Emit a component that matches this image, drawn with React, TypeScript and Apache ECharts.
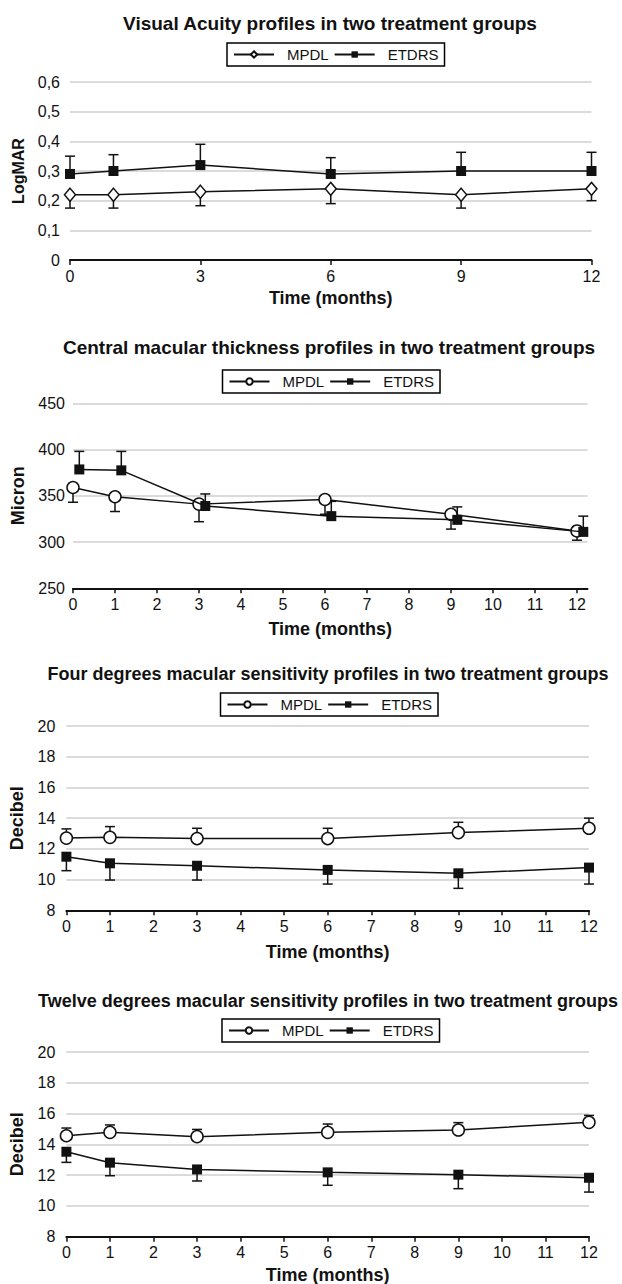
import React, { useEffect, useRef } from "react";
import * as echarts from "echarts";

// ---------- data ----------
const months = [0, 1, 3, 6, 9, 12];
const cmtEtdrsMonths = [0.15, 1.15, 3.15, 6.15, 9.15, 12.15]; // plotted slightly shifted in the original

// Visual acuity (LogMAR)
const vaMpdl = [0.22, 0.22, 0.23, 0.24, 0.22, 0.24];
const vaMpdlErr = [0.175, 0.175, 0.183, 0.19, 0.175, 0.2];
const vaEtdrs = [0.29, 0.3, 0.32, 0.29, 0.3, 0.3];
const vaEtdrsErr = [0.35, 0.355, 0.39, 0.345, 0.363, 0.363];

// Central macular thickness (micron)
const cmtMpdl = [359, 349, 341, 346, 330, 312];
const cmtMpdlErr = [343, 333, 322, 330, 314, 302];
const cmtEtdrs = [378.5, 377.5, 339, 328, 324, 311];
const cmtEtdrsErr = [398, 398, 352, 344, 338, 328];

// Four degrees macular sensitivity (dB)
const fdMpdl = [12.7, 12.75, 12.67, 12.67, 13.06, 13.34];
const fdMpdlErr = [13.3, 13.45, 13.34, 13.34, 13.73, 14.0];
const fdEtdrs = [11.49, 11.06, 10.9, 10.63, 10.41, 10.78];
const fdEtdrsErr = [10.58, 9.97, 9.97, 9.71, 9.43, 9.71];

// Twelve degrees macular sensitivity (dB)
const tdMpdl = [14.56, 14.78, 14.5, 14.78, 14.93, 15.43];
const tdMpdlErr = [15.06, 15.26, 14.97, 15.32, 15.41, 15.88];
const tdEtdrs = [13.52, 12.81, 12.37, 12.18, 12.03, 11.83];
const tdEtdrsErr = [12.83, 11.96, 11.62, 11.34, 11.12, 10.9];

const titles = [
  "Visual Acuity profiles in two treatment groups",
  "Central macular thickness profiles in two treatment groups",
  "Four degrees macular sensitivity profiles in two treatment groups",
  "Twelve degrees macular sensitivity profiles in two treatment groups",
];
const yNames = ["LogMAR", "Micron", "Decibel", "Decibel"];
const xName = "Time (months)";
const legendNames = ["MPDL", "ETDRS"];
const monthTicks = [0, 1, 2, 3, 4, 5, 6, 7, 8, 9, 10, 11, 12];

// ---------- styling ----------
const FONT = "'Liberation Sans', Arial, Helvetica, sans-serif";
const INK = "#111";

function errorBars(xs: number[], ys: number[], ends: number[]) {
  return {
    type: "custom",
    silent: true,
    z: 2,
    data: xs.map((x, i) => [x, ys[i], ends[i]]),
    encode: { x: 0, y: [1, 2] },
    renderItem: (_p: any, api: any) => {
      const a = api.coord([api.value(0), api.value(1)]);
      const b = api.coord([api.value(0), api.value(2)]);
      const hw = 5;
      const st = { stroke: INK, lineWidth: 1.5 };
      return {
        type: "group",
        children: [
          { type: "line", shape: { x1: a[0], y1: a[1], x2: b[0], y2: b[1] }, style: st },
          { type: "line", shape: { x1: b[0] - hw, y1: b[1], x2: b[0] + hw, y2: b[1] }, style: st },
        ],
      };
    },
  };
}

type Panel = {
  top: number;
  height: number;
  title: string;
  titleX: number;
  titleY: number;
  titleSize: number;
  legendLeft: number;
  legendTop: number;
  grid: { left: number; top: number; width: number; height: number };
  xMax: number;
  xInterval: number;
  xTicks: number[];
  yMin: number;
  yMax: number;
  yInterval: number;
  yName: string;
  yNameGap: number;
  yNameSize: number;
  yLabelMargin: number;
  xNameGap: number;
  comma: boolean;
  mpdlSymbol: string;
  mpdlSize: any;
  mpdlX: number[];
  mpdl: number[];
  mpdlErr: number[];
  etdrsX: number[];
  etdrs: number[];
  etdrsErr: number[];
};

const panels: Panel[] = [
  {
    top: 0, height: 320, title: titles[0], titleX: 330, titleY: 23, titleSize: 19,
    legendLeft: 227, legendTop: 43,
    grid: { left: 70, top: 82, width: 521.5, height: 178 },
    xMax: 12, xInterval: 3, xTicks: [0, 3, 6, 9, 12],
    yMin: 0, yMax: 0.6, yInterval: 0.1, yName: yNames[0], yNameGap: 40, yNameSize: 16, yLabelMargin: 10,
    xNameGap: 27, comma: true,
    mpdlSymbol: "diamond", mpdlSize: [11, 13],
    mpdlX: months, mpdl: vaMpdl, mpdlErr: vaMpdlErr,
    etdrsX: months, etdrs: vaEtdrs, etdrsErr: vaEtdrsErr,
  },
  {
    top: 320, height: 330, title: titles[1], titleX: 329, titleY: 27, titleSize: 19,
    legendLeft: 222.5, legendTop: 50,
    grid: { left: 73, top: 83.3, width: 514.5, height: 185 },
    xMax: 12.25, xInterval: 1, xTicks: monthTicks,
    yMin: 250, yMax: 450, yInterval: 50, yName: yNames[1], yNameGap: 46, yNameSize: 18, yLabelMargin: 8,
    xNameGap: 32, comma: false,
    mpdlSymbol: "circle", mpdlSize: 12,
    mpdlX: months, mpdl: cmtMpdl, mpdlErr: cmtMpdlErr,
    etdrsX: cmtEtdrsMonths, etdrs: cmtEtdrs, etdrsErr: cmtEtdrsErr,
  },
  {
    top: 650, height: 320, title: titles[2], titleX: 328, titleY: 24, titleSize: 18,
    legendLeft: 220.5, legendTop: 43,
    grid: { left: 66.4, top: 76, width: 522.6, height: 184.3 },
    xMax: 12, xInterval: 1, xTicks: monthTicks,
    yMin: 8, yMax: 20, yInterval: 2, yName: yNames[2], yNameGap: 40, yNameSize: 18, yLabelMargin: 11,
    xNameGap: 33, comma: false,
    mpdlSymbol: "circle", mpdlSize: 12,
    mpdlX: months, mpdl: fdMpdl, mpdlErr: fdMpdlErr,
    etdrsX: months, etdrs: fdEtdrs, etdrsErr: fdEtdrsErr,
  },
  {
    top: 970, height: 314, title: titles[3], titleX: 328, titleY: 31, titleSize: 18,
    legendLeft: 222, legendTop: 49,
    grid: { left: 66.4, top: 82, width: 522.6, height: 184.7 },
    xMax: 12, xInterval: 1, xTicks: monthTicks,
    yMin: 8, yMax: 20, yInterval: 2, yName: yNames[3], yNameGap: 40, yNameSize: 18, yLabelMargin: 11,
    xNameGap: 29, comma: false,
    mpdlSymbol: "circle", mpdlSize: 12,
    mpdlX: months, mpdl: tdMpdl, mpdlErr: tdMpdlErr,
    etdrsX: months, etdrs: tdEtdrs, etdrsErr: tdEtdrsErr,
  },
];

function buildOption(p: Panel) {
  const fmtY = (v: number) => {
    if (!p.comma) return String(v);
    return v === 0 ? "0" : v.toFixed(1).replace(".", ",");
  };
  return {
    animation: false,
    textStyle: { fontFamily: FONT },
    graphic: [
      {
        type: "text",
        x: p.titleX,
        y: p.titleY,
        style: {
          text: p.title,
          font: `bold ${p.titleSize}px ${FONT}`,
          fill: INK,
          textAlign: "center",
          textVerticalAlign: "middle",
        },
      },
    ],
    legend: {
      data: legendNames,
      left: p.legendLeft,
      top: p.legendTop,
      orient: "horizontal",
      itemWidth: 40,
      itemHeight: 8,
      itemGap: 5,
      padding: [4, 6, 4, 6],
      borderColor: "#000",
      borderWidth: 1.5,
      selectedMode: false,
      textStyle: { fontFamily: FONT, fontSize: 15, color: INK, padding: [0, 0, 0, 8] },
    },
    grid: { ...p.grid, containLabel: false, outerBoundsMode: "none" },
    xAxis: {
      type: "value",
      min: 0,
      max: p.xMax,
      interval: p.xInterval,
      name: xName,
      nameLocation: "middle",
      nameGap: p.xNameGap,
      nameTextStyle: { fontFamily: FONT, fontWeight: "bold", fontSize: 18, color: INK },
      axisLine: { lineStyle: { color: INK, width: 2 } },
      axisTick: { show: true, length: 5, lineStyle: { color: INK, width: 1.5 }, customValues: p.xTicks },
      axisLabel: {
        fontFamily: FONT,
        fontSize: 16,
        color: INK,
        margin: 8,
        customValues: p.xTicks,
        formatter: (v: number) => (Number.isInteger(v) ? String(v) : ""),
      },
      splitLine: { show: false },
    },
    yAxis: {
      type: "value",
      min: p.yMin,
      max: p.yMax,
      interval: p.yInterval,
      name: p.yName,
      nameLocation: "middle",
      nameRotate: 90,
      nameGap: p.yNameGap,
      nameTextStyle: { fontFamily: FONT, fontWeight: "bold", fontSize: p.yNameSize, color: INK },
      axisLine: { show: false },
      axisTick: { show: false },
      axisLabel: { fontFamily: FONT, fontSize: 16, color: INK, margin: p.yLabelMargin, formatter: fmtY },
      splitLine: { show: true, lineStyle: { color: "#cfcfcf", width: 1.5 } },
    },
    series: [
      errorBars(p.mpdlX, p.mpdl, p.mpdlErr),
      errorBars(p.etdrsX, p.etdrs, p.etdrsErr),
      {
        type: "line",
        name: legendNames[0],
        z: 3,
        data: p.mpdlX.map((x, i) => [x, p.mpdl[i]]),
        symbol: p.mpdlSymbol,
        symbolSize: p.mpdlSize,
        showAllSymbol: true,
        itemStyle: { color: "#fff", borderColor: INK, borderWidth: 1.5 },
        lineStyle: { color: INK, width: 1.5 },
      },
      {
        type: "line",
        name: legendNames[1],
        z: 4,
        data: p.etdrsX.map((x, i) => [x, p.etdrs[i]]),
        symbol: "rect",
        symbolSize: 10,
        showAllSymbol: true,
        itemStyle: { color: INK, borderColor: INK, borderWidth: 0 },
        lineStyle: { color: INK, width: 1.5 },
      },
    ],
  };
}

function ChartPanel({ panel }: { panel: Panel }) {
  const ref = useRef<HTMLDivElement | null>(null);
  useEffect(() => {
    if (!ref.current) return;
    const chart = echarts.init(ref.current, undefined, { renderer: "svg" });
    chart.setOption(buildOption(panel) as any);
    return () => chart.dispose();
  }, [panel]);
  return (
    <div
      ref={ref}
      style={{ position: "absolute", left: 0, top: panel.top, width: 622, height: panel.height }}
    />
  );
}

export default function App() {
  return (
    <div style={{ position: "absolute", left: 0, top: 0, width: 622, height: 1284, background: "#fff" }}>
      {panels.map((p, i) => (
        <ChartPanel key={i} panel={p} />
      ))}
    </div>
  );
}
